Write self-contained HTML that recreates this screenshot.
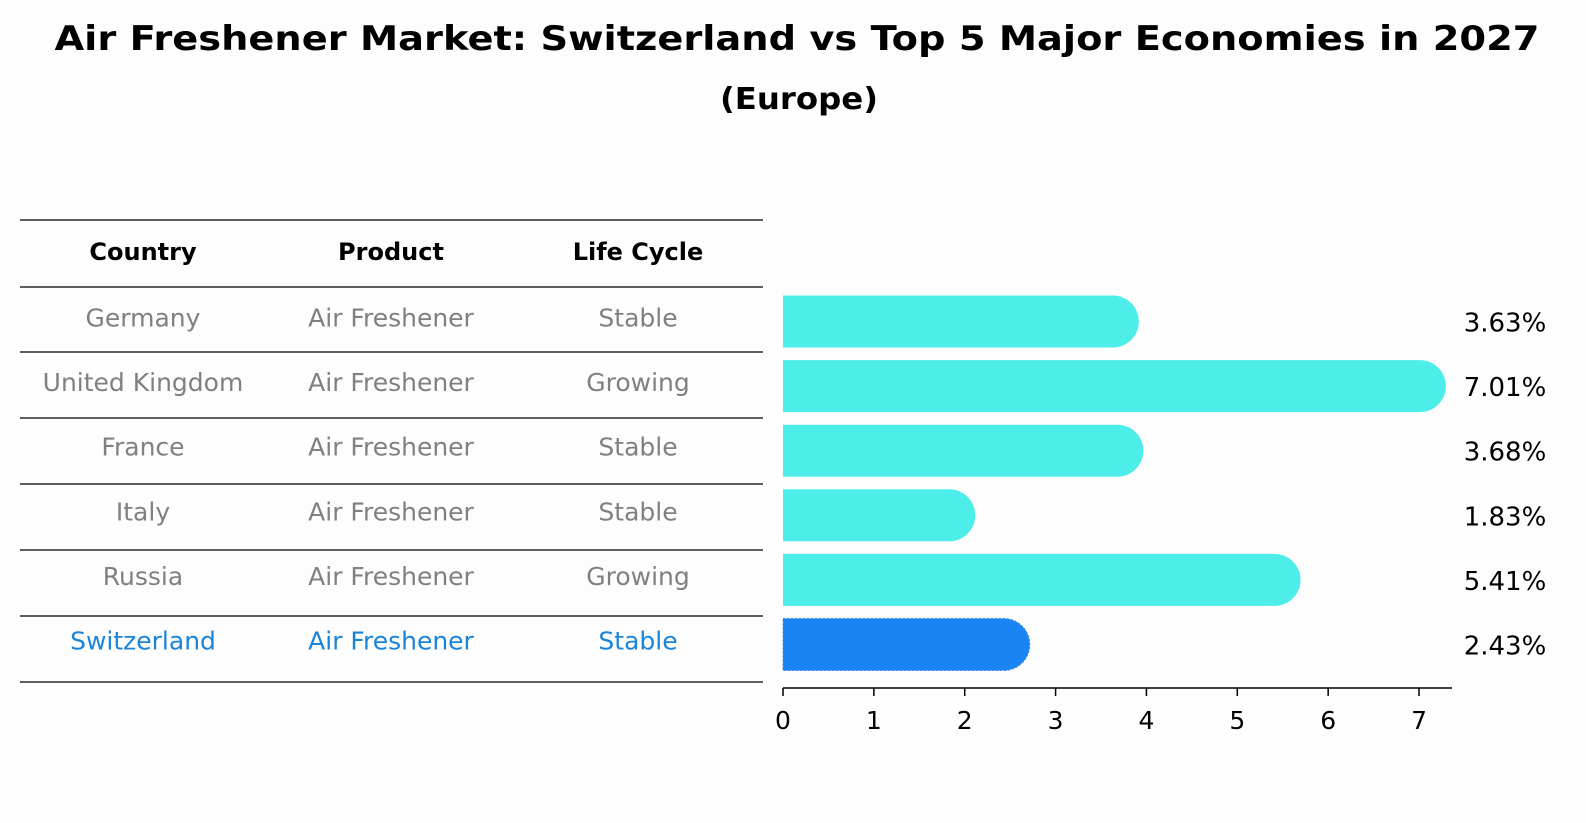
<!DOCTYPE html>
<html><head><meta charset="utf-8"><style>
body{margin:0;background:#fdfdfd;}
svg{display:block;font-family:"DejaVu Sans","Liberation Sans",sans-serif;}
</style></head><body>
<svg id="chart" width="1586" height="823" viewBox="0 0 1586 823" xmlns="http://www.w3.org/2000/svg">
<rect width="1586" height="823" fill="#fdfdfd"/>
<text x="797" y="50" text-anchor="middle" font-size="34" font-weight="bold" textLength="1485" lengthAdjust="spacingAndGlyphs">Air Freshener Market: Switzerland vs Top 5 Major Economies in 2027</text>
<text x="799" y="109" text-anchor="middle" font-size="30" font-weight="bold" textLength="158" lengthAdjust="spacingAndGlyphs">(Europe)</text>
<g id="table"></g>
<g id="bars"></g>
</svg>
<script>
const countries=["Germany","United Kingdom","France","Italy","Russia","Switzerland"];
const products=["Air Freshener","Air Freshener","Air Freshener","Air Freshener","Air Freshener","Air Freshener"];
const lifeCycles=["Stable","Growing","Stable","Stable","Growing","Stable"];
const values=[3.63,7.01,3.68,1.83,5.41,2.43];
const ticks=[0,1,2,3,4,5,6,7];
const NS="http://www.w3.org/2000/svg";
function mk(tag,attrs,parent,txt){const e=document.createElementNS(NS,tag);for(const k in attrs)e.setAttribute(k,attrs[k]);if(txt!==undefined)e.textContent=txt;parent.appendChild(e);return e;}
const x=v=>783+v*90.86;
const y=i=>321.5+i*64.6;
const tbl=document.getElementById('table');
const lineYs=[220,287,352,418,484,550,616,682];
lineYs.forEach(ly=>{const l=mk('line',{x1:20,x2:763,y1:ly,y2:ly,stroke:'#000','stroke-width':1.2},tbl);

});
const colX=[143,391,638];
["Country","Product","Life Cycle"].forEach((h,j)=>{const t=mk('text',{x:colX[j],y:260,'text-anchor':'middle','font-size':24,'font-weight':'bold'},tbl,h);

});
countries.forEach((c,i)=>{const col=i===countries.length-1?'#1a84d8':'#808080';
[c,products[i],lifeCycles[i]].forEach((v,j)=>{const t=mk('text',{x:colX[j],y:y(i)+5,'text-anchor':'middle','font-size':25,fill:col},tbl,v);

});});
const g=document.getElementById('bars');
const h=52,r=26;
values.forEach((v,i)=>{const last=i===values.length-1;const cy=y(i);const xe=x(v);
const p=mk('path',{d:`M${x(0)},${cy-h/2} L${xe},${cy-h/2} A${r},${r} 0 0 1 ${xe},${cy+h/2} L${x(0)},${cy+h/2} Z`,fill:last?'#1a84f5':'#4dede9',stroke:last?'#3a8ad8':'none','stroke-dasharray':last?'2,2':'none'},g);


const t=mk('text',{x:1505,y:cy+10,'text-anchor':'middle','font-size':26},g,v.toFixed(2)+'%');

});
const ax=mk('line',{x1:783,x2:1452,y1:688,y2:688,stroke:'#000','stroke-width':1.5},g);


ticks.forEach(tk=>{const l=mk('line',{x1:x(tk),x2:x(tk),y1:688,y2:696,stroke:'#000','stroke-width':1.5},g);


const t=mk('text',{x:x(tk),y:729,'text-anchor':'middle','font-size':25},g,String(tk));

});
</script>
</body></html>
